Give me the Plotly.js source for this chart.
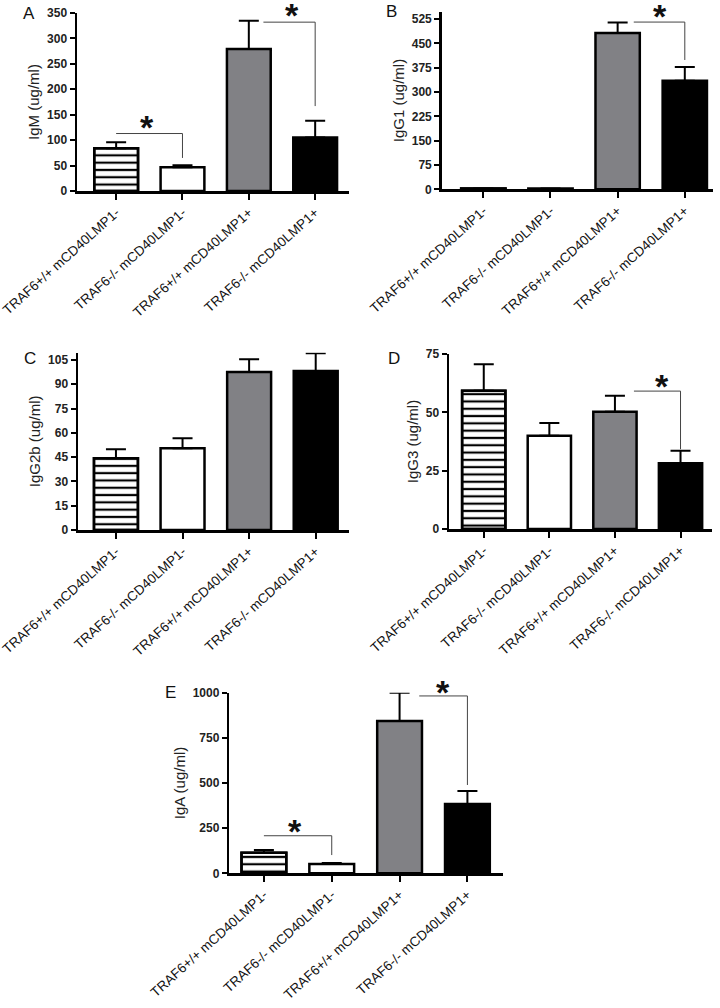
<!DOCTYPE html>
<html>
<head>
<meta charset="utf-8">
<script src="https://cdn.plot.ly/plotly-3.0.1.min.js"></script>
<style>html,body{margin:0;padding:0;background:#fff;}#chart{width:720px;height:1008px;}</style>
</head>
<body>
<div id="chart"></div>
<script>
// ---- data ----
const categories = ["TRAF6+/+ mCD40LMP1-", "TRAF6-/- mCD40LMP1-", "TRAF6+/+ mCD40LMP1+", "TRAF6-/- mCD40LMP1+"];
const igM = [84, 46.5, 279, 105];
const igMErr = [12, 4, 56, 33];
const igG1 = [2.5, 2.5, 482, 335];
const igG1Err = [0, 0, 33, 42];
const igG2b = [44.3, 50.5, 97.6, 98.2];
const igG2bErr = [5.5, 6.1, 7.8, 10.9];
const igG3 = [59.2, 40, 50.3, 28.2];
const igG3Err = [11.4, 5.4, 6.8, 5.3];
const igA = [114, 51.5, 843, 384];
const igAErr = [15, 5.5, 157, 72];
const yTitles = ["IgM (ug/ml)", "IgG1 (ug/ml)", "IgG2b (ug/ml)", "IgG3 (ug/ml)", "IgA (ug/ml)"];
const panelLetters = ["A", "B", "C", "D", "E"];
const yTicks = [
  [0, 50, 100, 150, 200, 250, 300, 350],
  [0, 75, 150, 225, 300, 375, 450, 525],
  [0, 15, 30, 45, 60, 75, 90, 105],
  [0, 25, 50, 75],
  [0, 250, 500, 750, 1000]
];
// significance brackets: [panel, xStart, xEnd, yLevel, yDrop]
const brackets = [
  [0, 0, 1, 113, 65],
  [0, 2.22, 3, 332, 167],
  [1, 2.24, 3, 516, 399],
  [3, 2.29, 3, 59.1, 34.2],
  [4, 0, 1, 208, 101],
  [4, 2.29, 3, 982, 489]
];
// star positions: [panel, x, y]
const stars = [
  [0, 0.47, 143], [0, 2.65, 364], [1, 2.63, 563], [3, 2.71, 65.3], [4, 0.46, 286], [4, 2.64, 1055]
];

// ---- layout geometry ----
const W = 720, H = 1008;
const boxes = [
  {x0: 77, x1: 349, y0: 13, y1: 191, xr: [-0.59, 3.51], yr: [0, 350]},
  {x0: 441.7, x1: 713, y0: 11.7, y1: 189.3, xr: [-0.62, 3.42], yr: [0, 548]},
  {x0: 78, x1: 349, y0: 352.7, y1: 530, xr: [-0.57, 3.5], yr: [0, 109.5]},
  {x0: 449, x1: 712, y0: 354, y1: 529, xr: [-0.53, 3.48], yr: [0, 75]},
  {x0: 229.3, x1: 502.7, y0: 692.7, y1: 873.3, xr: [-0.51, 3.52], yr: [0, 1000]}
];
const letterPos = [[29, 14], [392, 12], [30, 358], [394, 358], [170, 692]];

const seriesVals = [igM, igG1, igG2b, igG3, igA];
const seriesErr = [igMErr, igG1Err, igG2bErr, igG3Err, igAErr];
const FONT = "Arial, 'Liberation Sans', sans-serif";

const traces = [];
const layout = {
  width: W, height: H,
  margin: {l: 0, r: 0, t: 0, b: 0},
  paper_bgcolor: "#fff", plot_bgcolor: "rgba(0,0,0,0)",
  showlegend: false,
  barmode: "overlay",
  font: {family: FONT, color: "#222"},
  shapes: [], annotations: []
};

boxes.forEach((b, i) => {
  const n = i === 0 ? "" : String(i + 1);
  traces.push({
    type: "bar",
    x: categories,
    y: seriesVals[i],
    xaxis: "x" + n, yaxis: "y" + n,
    width: 0.66,
    marker: {
      color: ["#ffffff", "#ffffff", "#818185", "#000000"],
      line: {color: "#000", width: 2.5}
    },
    error_y: {type: "data", symmetric: false, array: seriesErr[i], arrayminus: [0, 0, 0, 0], color: "#000", thickness: 2, width: 10},
    hoverinfo: "skip"
  });
  // striped overlay for the first group
  traces.push({
    type: "bar",
    x: [categories[0]],
    y: [seriesVals[i][0]],
    xaxis: "x" + n, yaxis: "y" + n,
    width: 0.66,
    marker: {
      color: "#ffffff",
      line: {color: "#000", width: 2.5},
      pattern: {shape: "-", size: 7.3, solidity: 0.3, fgcolor: "#000", fgopacity: 1}
    },
    hoverinfo: "skip"
  });
  layout["xaxis" + n] = {
    domain: [b.x0 / W, b.x1 / W],
    anchor: "y" + n,
    range: b.xr,
    type: "category",
    showline: true, linecolor: "#000", linewidth: 2.5,
    ticks: "outside", ticklen: 6, tickwidth: 2, tickcolor: "#000",
    tickangle: -42,
    tickfont: {family: FONT, size: 13.5, color: "#111"},
    showgrid: false, zeroline: false, fixedrange: true
  };
  layout["yaxis" + n] = {
    domain: [1 - b.y1 / H, 1 - b.y0 / H],
    anchor: "x" + n,
    range: b.yr,
    tickvals: yTicks[i],
    showline: true, linecolor: "#000", linewidth: 2.5,
    ticks: "outside", ticklen: 5, tickwidth: 2, tickcolor: "#000",
    tickfont: {family: FONT, size: 12, color: "#222", weight: 700},
    title: {text: yTitles[i], font: {family: FONT, size: 15, color: "#222"}, standoff: 4},
    showgrid: false, zeroline: false, fixedrange: true
  };
  layout.annotations.push({
    xref: "paper", yref: "paper",
    x: letterPos[i][0] / W, y: 1 - letterPos[i][1] / H,
    xanchor: "center", yanchor: "middle",
    text: panelLetters[i], showarrow: false,
    font: {family: FONT, size: 17, color: "#111"}
  });
});

brackets.forEach(([p, xs, xe, yl, yd]) => {
  const n = p === 0 ? "" : String(p + 1);
  layout.shapes.push({
    type: "path", xref: "x" + n, yref: "y" + n,
    path: `M ${xs} ${yl} L ${xe} ${yl} L ${xe} ${yd}`,
    line: {color: "#444", width: 1}
  });
});
stars.forEach(([p, xs, ys]) => {
  const n = p === 0 ? "" : String(p + 1);
  const b = boxes[p];
  const top = b.yr[1];
  const pxPerUnit = (b.y1 - b.y0) / (b.yr[1] - b.yr[0]);
  const yIn = Math.min(ys, top);
  const extra = (ys - yIn) * pxPerUnit;
  layout.annotations.push({
    xref: "x" + n, yref: "y" + n, x: xs, y: yIn,
    xanchor: "center", yanchor: "middle",
    text: "*", showarrow: false,
    font: {family: FONT, size: 34, color: "#111", weight: 700},
    yshift: extra - 9
  });
});

Plotly.newPlot("chart", traces, layout, {staticPlot: true, displayModeBar: false});
</script>
</body>
</html>
